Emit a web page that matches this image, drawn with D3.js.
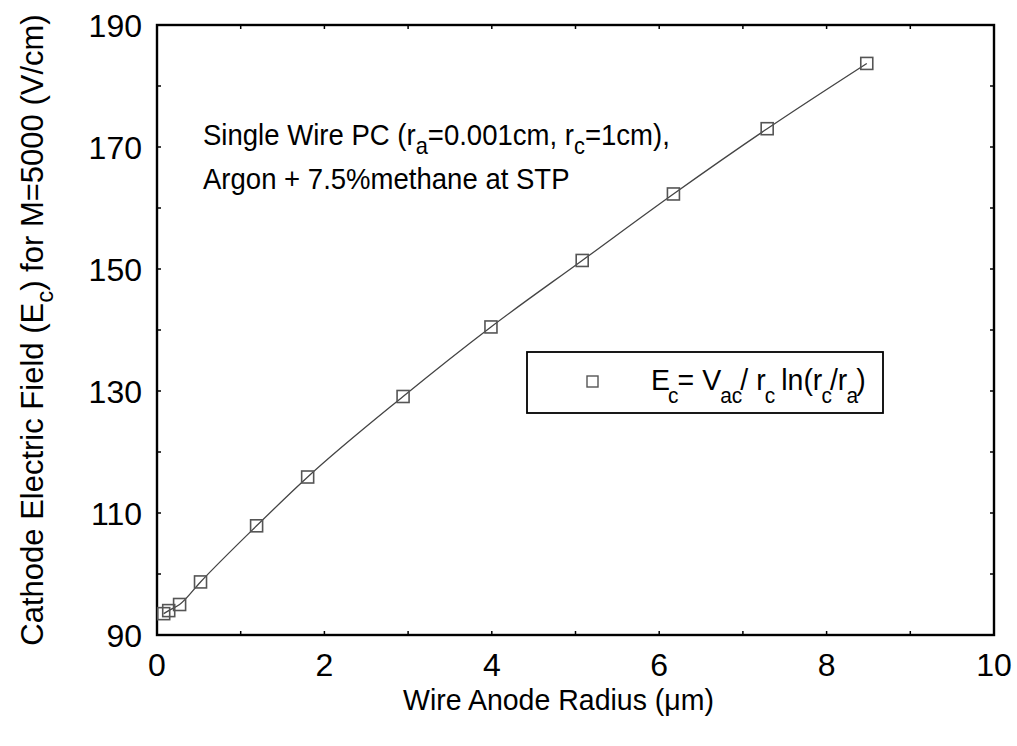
<!DOCTYPE html>
<html>
<head>
<meta charset="utf-8">
<script src="https://cdn.jsdelivr.net/npm/d3@7"></script>
<style>
  body { margin: 0; background: #fff; }
  svg text { font-family: "Liberation Sans", Arial, sans-serif; fill: #000; }
</style>
</head>
<body>
<div id="chart"></div>
<script>
// Wire anode radius (um) vs cathode field (V/cm)
const radius = [0.08, 0.14, 0.27, 0.52, 1.19, 1.80, 2.94, 3.99, 5.08, 6.17, 7.29, 8.48];
const field = [93.5, 94.0, 95.0, 98.7, 107.9, 115.9, 129.1, 140.5, 151.4, 162.3, 173.0, 183.7];
const xTicks = [0, 2, 4, 6, 8, 10];
const yTicks = [90, 110, 130, 150, 170, 190];

const width = 1017, height = 746;
const margin = { top: 25, right: 23, bottom: 111, left: 157 };

const svg = d3.select('#chart').append('svg')
    .attr('width', width)
    .attr('height', height);

const x = d3.scaleLinear().domain([0, 10]).range([margin.left, width - margin.right]);
const y = d3.scaleLinear().domain([90, 190]).range([height - margin.bottom, margin.top]);

// text placed at (px,py) and squeezed horizontally by sx
function hText(px, py, size, sx) {
    return svg.append('g')
        .attr('transform', `translate(${px},${py}) scale(${sx},1)`)
        .append('text')
        .style('font-size', size + 'px');
}

// minor/major ticks on all four sides, pointing inward
const tickLen = 4;
const xMinor = d3.range(1, 10);
const yMinor = d3.range(100, 190, 10);
const tg = svg.append('g').attr('stroke', '#000').attr('stroke-width', 1.5);
xMinor.forEach(v => {
    tg.append('line').attr('x1', x(v)).attr('x2', x(v))
        .attr('y1', y(90)).attr('y2', y(90) - tickLen);
    tg.append('line').attr('x1', x(v)).attr('x2', x(v))
        .attr('y1', y(190)).attr('y2', y(190) + tickLen);
});
yMinor.forEach(v => {
    tg.append('line').attr('y1', y(v)).attr('y2', y(v))
        .attr('x1', x(0)).attr('x2', x(0) + tickLen);
    tg.append('line').attr('y1', y(v)).attr('y2', y(v))
        .attr('x1', x(10)).attr('x2', x(10) - tickLen);
});

// frame
svg.append('rect')
    .attr('x', x(0)).attr('y', y(190))
    .attr('width', x(10) - x(0)).attr('height', y(90) - y(190))
    .attr('fill', 'none').attr('stroke', '#000').attr('stroke-width', 2.4);

// tick labels
const tfs = 32;
svg.append('g').selectAll('text')
    .data(xTicks).enter().append('text')
    .attr('x', d => x(d))
    .attr('y', y(90) + 41)
    .attr('text-anchor', 'middle')
    .style('font-size', tfs + 'px')
    .text(d => d);

svg.append('g').selectAll('text')
    .data(yTicks).enter().append('text')
    .attr('x', x(0) - 15)
    .attr('y', d => y(d) + 12)
    .attr('text-anchor', 'end')
    .style('font-size', tfs + 'px')
    .text(d => d);

// axis titles
hText((x(0) + x(10)) / 2 - 17, 710, 30, 0.95)
    .attr('text-anchor', 'middle')
    .text('Wire Anode Radius (\u03BCm)');

const yt = svg.append('text')
    .attr('transform', 'translate(43,330) rotate(-90)')
    .attr('text-anchor', 'middle')
    .style('font-size', '31px');
yt.append('tspan').text('Cathode Electric Field (E');
yt.append('tspan').attr('dy', 10).style('font-size', '24px').text('c');
yt.append('tspan').attr('dy', -10).text(') for M=5000 (V/cm)');

// fitted curve and data points
const pts = radius.map((r, i) => [r, field[i]]);
svg.append('path')
    .datum(pts)
    .attr('fill', 'none')
    .attr('stroke', '#444')
    .attr('stroke-width', 1.3)
    .attr('d', d3.line().x(d => x(d[0])).y(d => y(d[1])).curve(d3.curveMonotoneX));

const sq = 12;
svg.append('g').selectAll('rect')
    .data(pts).enter().append('rect')
    .attr('x', d => x(d[0]) - sq / 2)
    .attr('y', d => y(d[1]) - sq / 2)
    .attr('width', sq).attr('height', sq)
    .attr('fill', 'none')
    .attr('stroke', '#555')
    .attr('stroke-width', 1.6);

// annotation
const ann = hText(203, 145, 29, 0.95);
ann.append('tspan').text('Single Wire PC (r');
ann.append('tspan').attr('dy', 9).style('font-size', '23px').text('a');
ann.append('tspan').attr('dy', -9).text('=0.001cm, r');
ann.append('tspan').attr('dy', 9).style('font-size', '23px').text('c');
ann.append('tspan').attr('dy', -9).text('=1cm),');
hText(203, 189, 29, 0.95).text('Argon + 7.5%methane at STP');

// legend
svg.append('rect')
    .attr('x', 527).attr('y', 352).attr('width', 356).attr('height', 61)
    .attr('fill', '#fff').attr('stroke', '#000').attr('stroke-width', 1.8);
svg.append('rect')
    .attr('x', 587).attr('y', 376).attr('width', 11).attr('height', 11)
    .attr('fill', 'none').attr('stroke', '#555').attr('stroke-width', 1.4);
const lg = hText(651, 390, 30, 0.95);
const sub = (t, dx) => lg.append('tspan').attr('dy', 13).attr('dx', dx || 0).style('font-size', '22px').text(t);
const base = (t, dx) => lg.append('tspan').attr('dy', -13).attr('dx', dx || 0).text(t);
lg.append('tspan').text('E');
sub('c', -2);
base('= V', -1);
sub('ac', -1);
base('/ r', -2);
sub('c', -1);
base(' ln(r', -2);
sub('c', -1);
base('/r', -2);
sub('a', -1);
base(')', -2);
</script>
</body>
</html>
